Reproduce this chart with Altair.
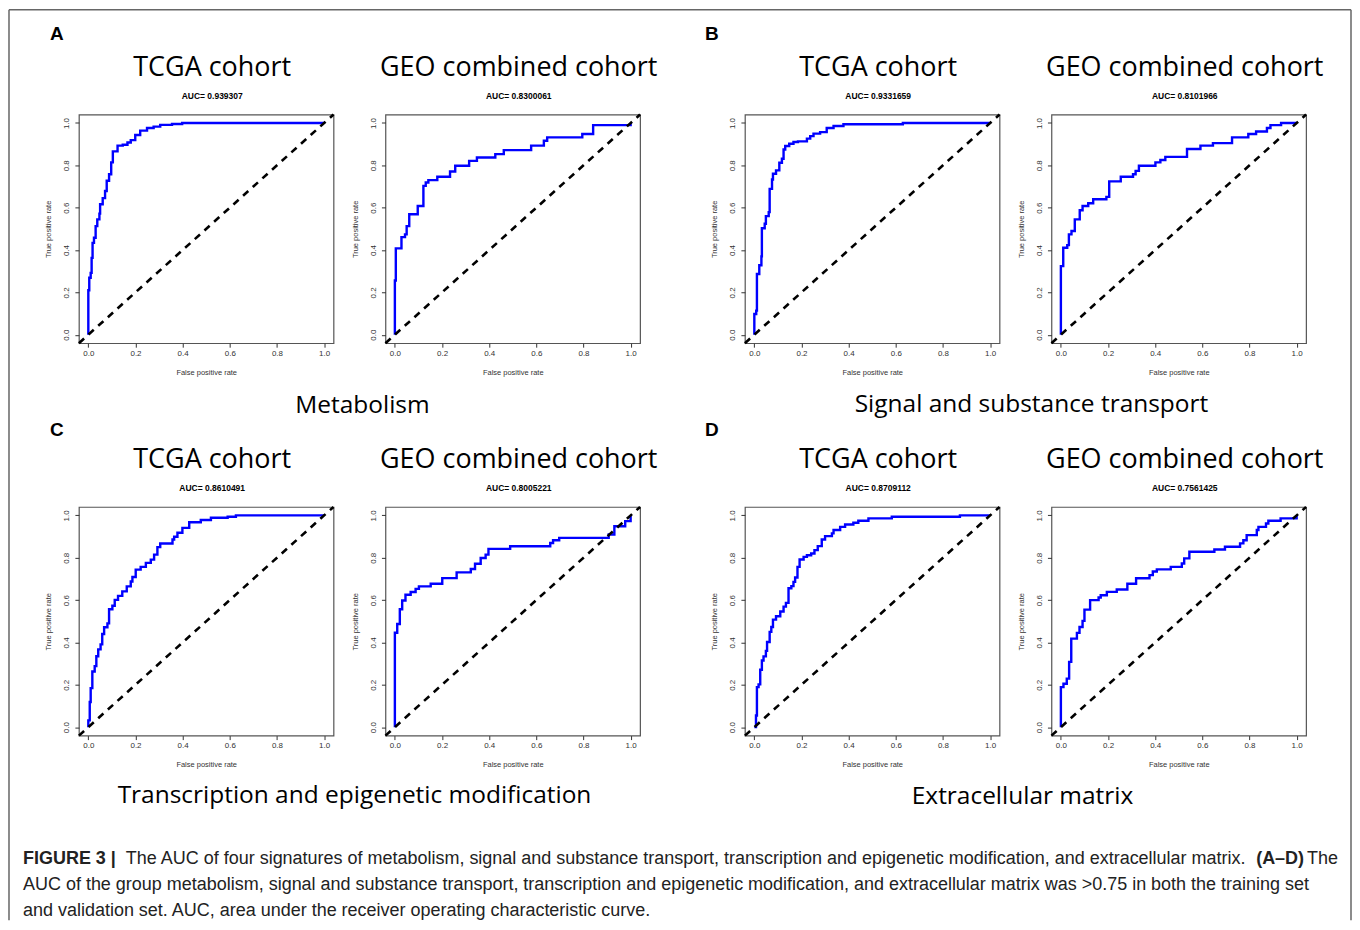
import altair as alt
import pandas as pd

# ---------------- data ----------------
A_tcga_fpr = [0, 0, 0.004, 0.01, 0.014, 0.018, 0.024, 0.031, 0.038, 0.047, 0.05, 0.061, 0.071, 0.078, 0.088,
              0.097, 0.104, 0.124, 0.146, 0.166, 0.18, 0.199, 0.22, 0.249, 0.277, 0.305, 0.355, 0.398, 1.0]
A_tcga_tpr = [0, 0.21, 0.269, 0.292, 0.363, 0.434, 0.458, 0.513, 0.545, 0.572, 0.616, 0.645, 0.679, 0.727, 0.758,
              0.814, 0.866, 0.893, 0.897, 0.908, 0.919, 0.943, 0.964, 0.976, 0.983, 0.991, 0.995, 1.0, 1.0]
A_geo_fpr = [0, 0, 0.004, 0.028, 0.043, 0.05, 0.061, 0.097, 0.121, 0.131, 0.142, 0.18, 0.234, 0.256, 0.315,
             0.348, 0.426, 0.462, 0.578, 0.632, 0.646, 0.795, 0.841, 1.0]
A_geo_tpr = [0, 0.256, 0.408, 0.461, 0.474, 0.513, 0.569, 0.608, 0.703, 0.719, 0.73, 0.746, 0.771, 0.798, 0.821,
             0.837, 0.853, 0.872, 0.893, 0.916, 0.932, 0.948, 0.99, 1.0]
B_tcga_fpr = [0, 0, 0.008, 0.011, 0.021, 0.03, 0.032, 0.044, 0.049, 0.061, 0.065, 0.075, 0.079, 0.092, 0.106,
              0.117, 0.124, 0.131, 0.148, 0.166, 0.185, 0.223, 0.237, 0.251, 0.279, 0.307, 0.336, 0.378, 0.63, 1.0]
B_tcga_tpr = [0, 0.098, 0.114, 0.287, 0.328, 0.37, 0.503, 0.524, 0.56, 0.579, 0.689, 0.733, 0.76, 0.776, 0.812,
              0.831, 0.875, 0.891, 0.902, 0.91, 0.913, 0.926, 0.938, 0.95, 0.957, 0.976, 0.986, 0.994, 1.0, 1.0]
B_geo_fpr = [0, 0, 0.01, 0.027, 0.034, 0.045, 0.059, 0.08, 0.092, 0.116, 0.137, 0.193, 0.205, 0.254, 0.306,
             0.317, 0.331, 0.401, 0.422, 0.443, 0.535, 0.592, 0.645, 0.726, 0.795, 0.828, 0.874, 0.889, 0.934, 1.0]
B_geo_tpr = [0, 0.324, 0.411, 0.423, 0.474, 0.49, 0.545, 0.588, 0.608, 0.621, 0.64, 0.651, 0.724, 0.746, 0.758,
             0.774, 0.798, 0.814, 0.825, 0.84, 0.877, 0.893, 0.905, 0.932, 0.948, 0.96, 0.976, 0.99, 1.0, 1.0]
C_tcga_fpr = [0, 0, 0.006, 0.01, 0.017, 0.027, 0.034, 0.042, 0.052, 0.059, 0.067, 0.081, 0.088, 0.102, 0.112,
              0.126, 0.144, 0.163, 0.18, 0.187, 0.201, 0.222, 0.244, 0.265, 0.279, 0.293, 0.305, 0.357, 0.364,
              0.378, 0.399, 0.428, 0.477, 0.52, 0.591, 0.626, 1.0]
C_tcga_tpr = [0, 0.032, 0.119, 0.184, 0.263, 0.288, 0.335, 0.367, 0.391, 0.44, 0.472, 0.49, 0.557, 0.573, 0.601,
              0.62, 0.641, 0.665, 0.688, 0.709, 0.744, 0.757, 0.776, 0.791, 0.815, 0.85, 0.867, 0.886, 0.899,
              0.918, 0.941, 0.968, 0.978, 0.989, 0.994, 1.0, 1.0]
C_geo_fpr = [0, 0, 0.01, 0.021, 0.031, 0.045, 0.067, 0.088, 0.102, 0.152, 0.201, 0.262, 0.322, 0.34, 0.364,
             0.385, 0.397, 0.489, 0.659, 0.671, 0.697, 0.907, 0.931, 0.977, 1.0]
C_geo_tpr = [0, 0.446, 0.487, 0.557, 0.598, 0.625, 0.638, 0.653, 0.665, 0.677, 0.704, 0.731, 0.747, 0.772, 0.799,
             0.815, 0.842, 0.854, 0.87, 0.883, 0.894, 0.91, 0.949, 0.973, 1.0]
D_tcga_fpr = [0, 0.007, 0.011, 0.018, 0.025, 0.032, 0.039, 0.049, 0.054, 0.065, 0.072, 0.079, 0.092, 0.11, 0.124,
              0.134, 0.145, 0.157, 0.166, 0.173, 0.183, 0.192, 0.209, 0.223, 0.241, 0.255, 0.269, 0.286, 0.3,
              0.329, 0.336, 0.364, 0.385, 0.42, 0.441, 0.484, 0.583, 0.872, 1.0]
D_tcga_tpr = [0, 0.055, 0.189, 0.202, 0.271, 0.315, 0.334, 0.36, 0.402, 0.45, 0.473, 0.508, 0.524, 0.546, 0.569,
              0.587, 0.656, 0.666, 0.686, 0.707, 0.757, 0.792, 0.804, 0.812, 0.82, 0.836, 0.855, 0.886, 0.902,
              0.915, 0.931, 0.946, 0.957, 0.965, 0.975, 0.986, 0.994, 1.0, 1.0]
D_geo_fpr = [0, 0, 0.011, 0.025, 0.035, 0.044, 0.068, 0.079, 0.092, 0.1, 0.124, 0.16, 0.169, 0.195, 0.237,
             0.282, 0.319, 0.376, 0.39, 0.407, 0.466, 0.513, 0.523, 0.545, 0.651, 0.696, 0.76, 0.774, 0.788,
             0.831, 0.838, 0.87, 0.88, 0.932, 1.0]
D_geo_tpr = [0, 0.189, 0.205, 0.229, 0.308, 0.418, 0.445, 0.473, 0.502, 0.555, 0.6, 0.612, 0.623, 0.639, 0.65,
             0.677, 0.703, 0.718, 0.735, 0.745, 0.757, 0.773, 0.797, 0.828, 0.839, 0.852, 0.868, 0.883, 0.907,
             0.931, 0.946, 0.962, 0.975, 0.986, 1.0]

AUC_labels = {
    "A_tcga": "AUC= 0.939307", "A_geo": "AUC= 0.8300061",
    "B_tcga": "AUC= 0.9331659", "B_geo": "AUC= 0.8101966",
    "C_tcga": "AUC= 0.8610491", "C_geo": "AUC= 0.8005221",
    "D_tcga": "AUC= 0.8709112", "D_geo": "AUC= 0.7561425",
}
cohorts = ["TCGA cohort", "GEO combined cohort"]
panel_letters = ["A", "B", "C", "D"]
group_labels = ["Metabolism", "Signal and substance transport",
                "Transcription and epigenetic modification", "Extracellular matrix"]
tick_values = [0.0, 0.2, 0.4, 0.6, 0.8, 1.0]
axis_range = [-0.04, 1.04]

cap_text = ["FIGURE 3 |",
            "The AUC of four signatures of metabolism, signal and substance transport, transcription and epigenetic modification, and extracellular matrix.",
            "(A\u2013D)",
            "The",
            "AUC of the group metabolism, signal and substance transport, transcription and epigenetic modification, and extracellular matrix was >0.75 in both the training set",
            "and validation set. AUC, area under the receiver operating characteristic curve."]
cap_line = [0, 0, 0, 0, 1, 2]
cap_bold = [True, False, True, False, False, False]

# ---------------- layout constants (page pixels) ----------------
PW, PH = 255, 229
ORIGIN_X, ORIGIN_Y = 78, 899          # top-left of the annotation/caption view
CAP_X = [22, 125, 1257, 1308, 22, 22]
CAP_Y = [859, 885, 911]
LETTER_XY = [(49, 32), (705, 32), (49, 429), (705, 429)]
GROUP_XY = [(362, 405), (1032, 404), (354, 796), (1023, 797)]
FRAME = (8, 1352, 8, 920)

TITLE_FONT = "Open Sans"
SANS = "Liberation Sans"


def roc_panel(fpr, tpr, auc, cohort):
    df = pd.DataFrame({"fpr": fpr, "tpr": tpr, "i": list(range(len(fpr)))})
    diag = pd.DataFrame({"fpr": axis_range, "tpr": axis_range, "i": [0, 1]})
    xs = alt.Scale(domain=axis_range, nice=False, zero=False)
    ys = alt.Scale(domain=axis_range, nice=False, zero=False)
    xaxis = alt.Axis(values=tick_values, format=".1f", title="False positive rate",
                     labelPadding=2, titlePadding=11)
    yaxis = alt.Axis(values=tick_values, format=".1f", title="True positive rate",
                     labelAngle=-90, labelAlign="center", labelBaseline="bottom",
                     labelPadding=4, titlePadding=10)
    curve = alt.Chart(df).mark_line(color="#0000ff", strokeWidth=2.4, interpolate="step-after").encode(
        x=alt.X("fpr:Q", scale=xs, axis=xaxis),
        y=alt.Y("tpr:Q", scale=ys, axis=yaxis),
        order="i:Q",
    )
    dline = alt.Chart(diag).mark_line(color="black", strokeWidth=2.6, strokeDash=[7, 6]).encode(
        x="fpr:Q", y="tpr:Q", order="i:Q")
    return alt.layer(curve, dline).properties(
        width=PW, height=PH,
        title=alt.TitleParams(text=cohort, subtitle=auc, font=TITLE_FONT, fontSize=27,
                              fontWeight="normal", color="black", subtitleFont=SANS,
                              subtitleFontSize=8.5, subtitleFontWeight="bold",
                              subtitleColor="black", subtitlePadding=10, offset=8,
                              anchor="middle", dx=6),
    )


def spacer():
    return alt.Chart(pd.DataFrame({"t": [""]})).mark_text().encode(text="t:N").properties(
        width=1, height=PH, view=alt.ViewBackground(stroke=None))


data = {
    "A": (A_tcga_fpr, A_tcga_tpr, A_geo_fpr, A_geo_tpr),
    "B": (B_tcga_fpr, B_tcga_tpr, B_geo_fpr, B_geo_tpr),
    "C": (C_tcga_fpr, C_tcga_tpr, C_geo_fpr, C_geo_tpr),
    "D": (D_tcga_fpr, D_tcga_tpr, D_geo_fpr, D_geo_tpr),
}


def pair(letter):
    tf, tt, gf, gt = data[letter]
    return [roc_panel(tf, tt, AUC_labels[letter + "_tcga"], cohorts[0]),
            roc_panel(gf, gt, AUC_labels[letter + "_geo"], cohorts[1])]


# ---------------- annotation view: caption, panel letters, group labels, frame ----------------
cap_df = pd.DataFrame({
    "text": cap_text,
    "px": [x - ORIGIN_X for x in CAP_X],
    "py": [CAP_Y[l] - ORIGIN_Y for l in cap_line],
    "bold": cap_bold,
})
cap_normal = alt.Chart(cap_df).mark_text(align="left", baseline="middle", font=SANS, fontSize=18.0,
                                         color="#222222").transform_filter("!datum.bold").encode(
    x=alt.X("px:Q", scale=None), y=alt.Y("py:Q", scale=None), text="text:N")
cap_boldm = alt.Chart(cap_df).mark_text(align="left", baseline="middle", font=SANS, fontSize=18.0,
                                        fontWeight="bold", color="#222222").transform_filter("datum.bold").encode(
    x=alt.X("px:Q", scale=None), y=alt.Y("py:Q", scale=None), text="text:N")

let_df = pd.DataFrame({"text": panel_letters,
                       "px": [p[0] - ORIGIN_X for p in LETTER_XY],
                       "py": [p[1] - ORIGIN_Y for p in LETTER_XY]})
letters = alt.Chart(let_df).mark_text(align="left", baseline="middle", font=SANS, fontSize=19,
                                      fontWeight="bold", color="black").encode(
    x=alt.X("px:Q", scale=None), y=alt.Y("py:Q", scale=None), text="text:N")

grp_df = pd.DataFrame({"text": group_labels,
                       "px": [p[0] - ORIGIN_X for p in GROUP_XY],
                       "py": [p[1] - ORIGIN_Y for p in GROUP_XY]})
groups = alt.Chart(grp_df).mark_text(align="center", baseline="middle", font=TITLE_FONT, fontSize=24.5,
                                     color="black").encode(
    x=alt.X("px:Q", scale=None), y=alt.Y("py:Q", scale=None), text="text:N")

FL, FR, FT, FB = (FRAME[0] - ORIGIN_X, FRAME[1] - ORIGIN_X, FRAME[2] - ORIGIN_Y, FRAME[3] - ORIGIN_Y)
frame_df = pd.DataFrame({"x": [FL, FR, FL], "x2": [FL, FR, FR], "y": [FT, FT, FT], "y2": [FB, FB, FT]})
frame = alt.Chart(frame_df).mark_rule(color="#666666", strokeWidth=1.5).encode(
    x=alt.X("x:Q", scale=None), x2="x2:Q", y=alt.Y("y:Q", scale=None), y2="y2:Q")

annot = alt.layer(frame, letters, groups, cap_normal, cap_boldm).properties(
    width=PW, height=20, view=alt.ViewBackground(stroke=None))

panels = pair("A") + [spacer()] + pair("B") + pair("C") + [spacer()] + pair("D") + [annot]

chart = alt.concat(*panels, columns=5, spacing={"row": 164, "column": 52}, bounds="flush",
                   padding=0, background="white").configure_view(
    stroke="#555555", strokeWidth=1.2).configure_axis(
    labelFont=SANS, labelFontSize=8, labelColor="#333333", tickColor="#333333", tickSize=4,
    domain=False, grid=False, titleFont=SANS, titleFontSize=7.5, titleFontWeight="normal",
    titleColor="#333333")

chart.save("out.html", embed_options={"renderer": "svg", "actions": False})
